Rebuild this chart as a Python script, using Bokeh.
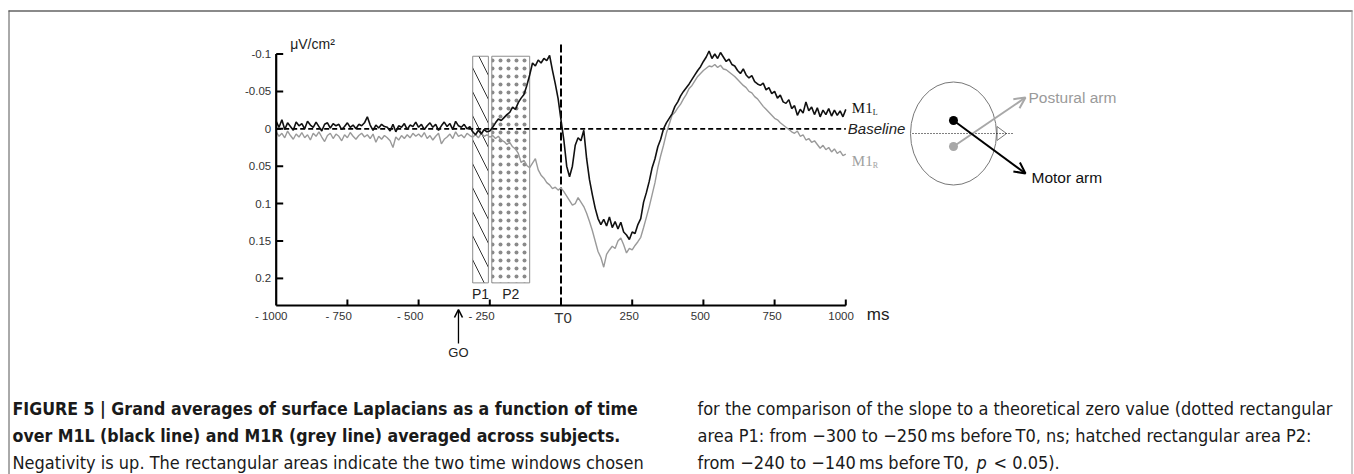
from bokeh.plotting import figure
from bokeh.models import Range1d, Arrow, OpenHead, ColumnDataSource
from bokeh.core.properties import value
from bokeh.embed import file_html
from bokeh.resources import INLINE

# ---------------- data ----------------
TIME_MS = list(range(-1000, 1001, 10))

M1L = [
    -0.010, -0.002, -0.012, 0.001, -0.008, -0.003, 0.002, -0.009, -0.004, -0.007,
    0.000, -0.010, -0.005, -0.002, -0.009, -0.003, 0.003, -0.006, -0.008, -0.001,
    -0.007, -0.004, -0.006, 0.001, -0.003, -0.008, -0.002, -0.005, 0.000, -0.006,
    -0.004, -0.008, -0.016, -0.005, 0.002, -0.005, -0.001, -0.006, -0.003, -0.002,
    0.003, -0.006, 0.004, -0.004, -0.002, -0.007, 0.001, -0.005, -0.003, -0.009,
    -0.002, -0.006, 0.001, -0.004, -0.008, -0.002, -0.006, 0.002, -0.004, -0.009,
    -0.003, -0.007, 0.001, -0.010, -0.004, -0.002, -0.006, 0.000, -0.003, 0.004,
    0.008, 0.002, 0.007, 0.001, 0.004, 0.003, -0.002, -0.008, -0.013, -0.011,
    -0.015, -0.019, -0.022, -0.029, -0.026, -0.035, -0.041, -0.046, -0.058, -0.072,
    -0.088, -0.084, -0.092, -0.088, -0.094, -0.091, -0.098, -0.078, -0.060, -0.040,
    -0.012, 0.015, 0.050, 0.064, 0.050, 0.022, 0.012, 0.016, 0.002, 0.040,
    0.068, 0.088, 0.106, 0.120, 0.128, 0.121, 0.130, 0.118, 0.132, 0.124,
    0.134, 0.125, 0.138, 0.142, 0.148, 0.138, 0.140, 0.128, 0.120, 0.098,
    0.085, 0.070, 0.052, 0.040, 0.024, 0.014, 0.000, -0.008, -0.014, -0.020,
    -0.030, -0.036, -0.044, -0.050, -0.055, -0.060, -0.066, -0.072, -0.078, -0.083,
    -0.090, -0.096, -0.104, -0.094, -0.100, -0.094, -0.102, -0.096, -0.090, -0.093,
    -0.086, -0.084, -0.078, -0.074, -0.080, -0.072, -0.068, -0.071, -0.063, -0.060,
    -0.058, -0.061, -0.052, -0.055, -0.047, -0.050, -0.041, -0.045, -0.036, -0.034,
    -0.039, -0.027, -0.031, -0.018, -0.026, -0.021, -0.036, -0.024, -0.029, -0.019,
    -0.028, -0.016, -0.025, -0.019, -0.027, -0.017, -0.025, -0.018, -0.024, -0.016, -0.026,
]

M1R = [
    0.004, 0.010, 0.006, 0.012, 0.003, 0.009, 0.014, 0.007, 0.011, 0.005,
    0.012, 0.008, 0.015, 0.006, 0.010, 0.004, 0.011, 0.017, 0.009, 0.006,
    0.013, 0.007, 0.010, 0.016, 0.008, 0.012, 0.005, 0.010, 0.014, 0.009,
    0.006, 0.011, 0.008, 0.013, 0.007, 0.018, 0.010, 0.014, 0.009, 0.012,
    0.016, 0.025, 0.011, 0.015, 0.009, 0.013, 0.008, 0.012, 0.006, 0.010,
    0.007, 0.011, 0.005, 0.013, 0.009, 0.015, 0.010, 0.006, 0.020, 0.014,
    0.011, 0.007, 0.013, 0.004, 0.010, 0.008, 0.012, 0.006, 0.009, 0.011,
    0.008, 0.012, 0.006, 0.010, 0.008, 0.011, 0.009, 0.013, 0.010, 0.015,
    0.017, 0.021, 0.018, 0.024, 0.027, 0.033, 0.045, 0.042, 0.049, 0.052,
    0.046, 0.040, 0.055, 0.062, 0.066, 0.072, 0.075, 0.080, 0.078, 0.082,
    0.079, 0.084, 0.090, 0.096, 0.102, 0.100, 0.092, 0.098, 0.104, 0.113,
    0.124, 0.136, 0.150, 0.164, 0.172, 0.185, 0.168, 0.162, 0.157, 0.160,
    0.150, 0.146, 0.155, 0.166, 0.160, 0.162, 0.156, 0.151, 0.145, 0.132,
    0.118, 0.104, 0.088, 0.072, 0.052, 0.036, 0.022, 0.006, -0.006, -0.018,
    -0.022, -0.028, -0.033, -0.040, -0.046, -0.054, -0.058, -0.064, -0.070, -0.074,
    -0.078, -0.081, -0.084, -0.083, -0.086, -0.082, -0.085, -0.080, -0.079, -0.076,
    -0.073, -0.070, -0.066, -0.062, -0.058, -0.055, -0.050, -0.048, -0.043, -0.040,
    -0.035, -0.030, -0.026, -0.022, -0.018, -0.014, -0.012, -0.008, -0.005, -0.002,
    0.001, 0.004, 0.006, 0.003, 0.010, 0.008, 0.015, 0.013, 0.018, 0.016,
    0.021, 0.026, 0.022, 0.028, 0.025, 0.031, 0.027, 0.033, 0.030, 0.036, 0.034,
]

Y_TICKS = [-0.1, -0.05, 0.0, 0.05, 0.1, 0.15, 0.2]
Y_TICK_LABELS = ["-0.1", "-0.05", "0", "0.05", "0.1", "0.15", "0.2"]
X_TICKS = [-1000, -750, -500, -250, 0, 250, 500, 750, 1000]
X_TICK_LABELS = ["- 1000", "- 750", "- 500", "- 250", "T0", "250", "500", "750", "1000"]

P1_WINDOW = (-310, -255)
P2_WINDOW = (-243, -110)
WINDOW_TOP = -0.097
WINDOW_BOTTOM = 0.206
GO_TIME = -360
T0_TIME = 0

CAPTION_LEFT = [
    ("FIGURE 5 | Grand averages of surface Laplacians as a function of time", "bold"),
    ("over M1L (black line) and M1R (grey line) averaged across subjects.", "bold"),
    ("Negativity is up. The rectangular areas indicate the two time windows chosen", "normal"),
]
CAPTION_RIGHT = [
    "for the comparison of the slope to a theoretical zero value (dotted rectangular",
    "area P1: from \u2212300 to \u2212250\u2009ms before\u2009T0, ns; hatched rectangular area P2:",
]
CAPTION_RIGHT_LAST = ["from \u2212240 to \u2212140\u2009ms before\u2009T0, ", "p", "< 0.05)."]

# ---------------- layout / calibration ----------------
W, H = 1354, 474
PAGE = 0
X0PX, PX_PER_MS = 560.5, 0.2848
Y0PX, PX_PER_UNIT = 128.3, 748.0


def tx(px):
    return (px - X0PX) / PX_PER_MS


def vy(py):
    return (py - Y0PX) / PX_PER_UNIT


AXIS_BOTTOM = vy(305)
AXIS_TOP = Y_TICKS[0]

SANS = "Liberation Sans"
CAPF = "DejaVu Sans Condensed"
SERIF = "Liberation Serif"

p = figure(width=W, height=H, x_range=Range1d(tx(PAGE), tx(PAGE + W)),
           y_range=Range1d(vy(PAGE + H), vy(PAGE)),
           output_backend="svg", toolbar_location=None,
           x_axis_type=None, y_axis_type=None, min_border=0)
p.outline_line_color = None
p.background_fill_color = "white"
p.border_fill_color = "white"

# page frame
p.segment(x0=[tx(8), tx(8.5), tx(1351.5)], y0=[vy(10.5), vy(10), vy(10)],
          x1=[tx(1352), tx(8.5), tx(1351.5)], y1=[vy(10.5), vy(480), vy(480)],
          line_color=["#8a8a8a", "#555555", "#9a9a9a"], line_width=[2, 1, 1])

# time windows
p.quad(left=[P1_WINDOW[0]], right=[P1_WINDOW[1]], top=[WINDOW_TOP], bottom=[WINDOW_BOTTOM],
       fill_color="white", line_color="#8c8c8c", line_width=1,
       hatch_pattern="\\", hatch_color="#333333", hatch_scale=24, hatch_weight=1)
p.quad(left=[P2_WINDOW[0]], right=[P2_WINDOW[1]], top=[WINDOW_TOP], bottom=[WINDOW_BOTTOM],
       fill_color="white", line_color="#8c8c8c", line_width=1,
       hatch_pattern=".", hatch_color="#8a8a8a", hatch_scale=8, hatch_weight=0.45)

# baseline and T0 line
p.line(x=[X_TICKS[0], X_TICKS[-1]], y=[0, 0], line_color="black", line_width=1.8, line_dash="5 3")
p.segment(x0=[T0_TIME], y0=[vy(44)], x1=[T0_TIME], y1=[AXIS_BOTTOM],
          line_color="black", line_width=2, line_dash="8 3")

# traces
p.line(x=TIME_MS, y=M1R, line_color="#9a9a9a", line_width=1.4)
p.line(x=TIME_MS, y=M1L, line_color="#111111", line_width=1.6)

# axes
p.segment(x0=[X_TICKS[0]], y0=[AXIS_TOP], x1=[X_TICKS[0]], y1=[AXIS_BOTTOM], line_color="black", line_width=2.2)
p.segment(x0=[X_TICKS[0]], y0=[AXIS_BOTTOM], x1=[X_TICKS[-1]], y1=[AXIS_BOTTOM], line_color="black", line_width=2.2)
yt_len = 7 / PX_PER_MS
p.segment(x0=[X_TICKS[0]] * len(Y_TICKS), y0=Y_TICKS, x1=[X_TICKS[0] + yt_len] * len(Y_TICKS), y1=Y_TICKS,
          line_color="black", line_width=2)
xt = [t for t in X_TICKS if t not in (X_TICKS[0], T0_TIME)]
xt_len = 6 / PX_PER_UNIT
p.segment(x0=xt, y0=[AXIS_BOTTOM] * len(xt), x1=xt, y1=[AXIS_BOTTOM - xt_len] * len(xt),
          line_color="black", line_width=2)

p.text(x=[X_TICKS[0]] * len(Y_TICKS), y=Y_TICKS, text=Y_TICK_LABELS, x_offset=-5,
       text_align="right", text_baseline="middle", text_font=value(SANS),
       text_font_size="11.5px", text_color="#333333")

xl_src = ColumnDataSource(dict(
    x=X_TICKS, y=[AXIS_BOTTOM] * len(X_TICKS), text=X_TICK_LABELS,
    xo=[-5, -8.7, -8.4, -8.3, 2, -3, -3, -2.5, -4.7],
    yo=[10.5, 10.5, 10.5, 10.5, 12, 10.5, 10.5, 10.5, 10.5],
    fs=["11.5px"] * 4 + ["15px"] + ["11.5px"] * 4,
))
p.text(x="x", y="y", text="text", x_offset="xo", y_offset="yo", text_font_size="fs",
       source=xl_src, text_align="center", text_baseline="middle",
       text_font=value(SANS), text_color="#333333")

p.text(x=[X_TICKS[-1]], y=[AXIS_BOTTOM], text=["ms"], x_offset=21, y_offset=9,
       text_align="left", text_baseline="middle", text_font=value(SANS),
       text_font_size="17px", text_color="#222222")
p.text(x=[X_TICKS[0]], y=[AXIS_TOP], text=["\u03bcV/cm\u00b2"], x_offset=14, y_offset=-10,
       text_align="left", text_baseline="middle", text_font=value(SANS),
       text_font_size="14px", text_color="#222222")

# window labels
p.text(x=[sum(P1_WINDOW) / 2, sum(P2_WINDOW) / 2], y=[WINDOW_BOTTOM] * 2, text=["P1", "P2"],
       y_offset=11, text_align="center", text_baseline="middle", text_font=value(SANS),
       text_font_size="14px", text_color="#222222")

# GO arrow
p.add_layout(Arrow(end=OpenHead(size=8, line_width=1.6, line_color="black"),
                   x_start=GO_TIME, y_start=vy(343), x_end=GO_TIME, y_end=vy(309),
                   line_width=1.3, line_color="black"))
p.text(x=[GO_TIME], y=[vy(352)], text=["GO"], text_align="center", text_baseline="middle",
       text_font=value(SANS), text_font_size="13px", text_color="#222222")

# series labels
p.text(x=[X_TICKS[-1]], y=[M1L[-1]], text=["M1"], x_offset=6, y_offset=-1, text_align="left",
       text_baseline="middle", text_font=value(SERIF), text_font_size="15px", text_color="#111111")
p.text(x=[X_TICKS[-1]], y=[M1L[-1]], text=["L"], x_offset=27, y_offset=3, text_align="left",
       text_baseline="middle", text_font=value(SERIF), text_font_size="8px", text_color="#111111")
p.text(x=[X_TICKS[-1]], y=[M1R[-1]], text=["M1"], x_offset=6, y_offset=7, text_align="left",
       text_baseline="middle", text_font=value(SERIF), text_font_size="15px", text_color="#a0a0a0")
p.text(x=[X_TICKS[-1]], y=[M1R[-1]], text=["R"], x_offset=27, y_offset=11, text_align="left",
       text_baseline="middle", text_font=value(SERIF), text_font_size="8px", text_color="#a0a0a0")
p.text(x=[X_TICKS[-1]], y=[0], text=["Baseline"], x_offset=2, text_align="left",
       text_baseline="middle", text_font=value(SANS), text_font_style="italic",
       text_font_size="15px", text_color="#222222")

# head diagram
p.ellipse(x=[tx(953)], y=[vy(133)], width=86, height=103, width_units="screen", height_units="screen",
          fill_color=None, line_color="#777777", line_width=1)
p.patch(x=[tx(996.5), tx(1006), tx(996.5)], y=[vy(126), vy(133), vy(140)],
        fill_color="white", line_color="#777777", line_width=1)
p.line(x=[tx(912), tx(1013)], y=[vy(133), vy(133)], line_color="black", line_width=1, line_dash="1 2")
p.add_layout(Arrow(end=OpenHead(size=11, line_width=2, line_color="#a8a8a8"),
                   x_start=tx(953), y_start=vy(146), x_end=tx(1025), y_end=vy(97),
                   line_width=2, line_color="#a8a8a8"))
p.add_layout(Arrow(end=OpenHead(size=11, line_width=2, line_color="black"),
                   x_start=tx(953), y_start=vy(120), x_end=tx(1025), y_end=vy(173),
                   line_width=2, line_color="black"))
p.scatter(x=[tx(953), tx(953)], y=[vy(120), vy(146)], size=9, marker="circle",
          fill_color=["black", "#a8a8a8"], line_color=None)
p.text(x=[tx(1028), tx(1031)], y=[vy(97), vy(177)], text=["Postural arm", "Motor arm"],
       text_align="left", text_baseline="middle", text_font=value(SANS),
       text_font_size="15.5px", text_color=["#9a9a9a", "#111111"])

# caption
CAP_Y = [408, 435, 462]
CAP_SIZES = ["17.6px", "17.6px", "18px"]
for i, (line, style) in enumerate(CAPTION_LEFT):
    p.text(x=[tx(12)], y=[vy(CAP_Y[i])], text=[line], text_align="left", text_baseline="middle",
           text_font=value(CAPF), text_font_style=style, text_font_size=CAP_SIZES[i], text_color="#1a1a1a")
for i, line in enumerate(CAPTION_RIGHT):
    p.text(x=[tx(697)], y=[vy(CAP_Y[i])], text=[line], text_align="left", text_baseline="middle",
           text_font=value(CAPF), text_font_size="18px", text_color="#1a1a1a")
last_x = [697, 976, 993]
last_style = ["normal", "italic", "normal"]
for part, px_, st in zip(CAPTION_RIGHT_LAST, last_x, last_style):
    p.text(x=[tx(px_)], y=[vy(CAP_Y[2])], text=[part], text_align="left", text_baseline="middle",
           text_font=value(CAPF), text_font_style=st, text_font_size="18px", text_color="#1a1a1a")

open("out.html", "w").write(file_html(p, INLINE))
